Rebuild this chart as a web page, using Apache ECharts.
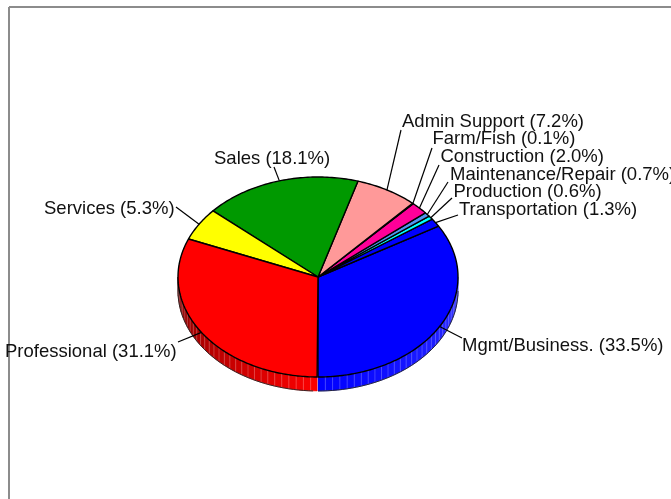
<!DOCTYPE html>
<html>
<head>
<meta charset="utf-8">
<style>
  html, body { margin: 0; padding: 0; background: #fff; }
  #chart { width: 671px; height: 499px; }
</style>
<script src="https://cdn.jsdelivr.net/npm/echarts@6/dist/echarts.min.js"></script>
</head>
<body>
<div id="chart"></div>
<script>
// slices, counter-clockwise starting from the bottom of the pie
const categories = ['Mgmt/Business.', 'Transportation', 'Production', 'Maintenance/Repair',
  'Construction', 'Farm/Fish', 'Admin Support', 'Sales', 'Services', 'Professional'];
const shares = [33.5, 1.3, 0.6, 0.7, 2.0, 0.1, 7.2, 18.1, 5.3, 31.1];
const sliceColors = ['#0000ff', '#0000ff', '#00ffff', '#4f94ef', '#ff0099',
  '#000000', '#ff9999', '#009900', '#ffff00', '#ff0000'];

// pie layout, in page pixels
const cx = 318, cy = 277, rx = 140, ry = 100, depth = 14;
const startAngle = -90;
// text left edge + vertical centre, and where each leader line stops
const labelAt = [[462, 346], [459, 210], [453.5, 192], [450, 175], [440.5, 157],
  [432.5, 139], [402, 122], [214, 159], [44, 209], [5, 352]];
const leaderEnd = [[462, 338], [458, 215], [452, 198], [448, 182], [439, 165],
  [432, 148], [401, 130], [274, 167], [176, 207], [178, 342]];

const rad = (d) => d * Math.PI / 180;
const sliceRanges = [];
let run = startAngle;
shares.forEach((s) => {
  sliceRanges.push([run, run + s * 3.6]);
  run += s * 3.6;
});

function rimPoint(api, deg, drop) {
  return api.coord([cx + rx * Math.cos(rad(deg)), cy - ry * Math.sin(rad(deg)) + drop]);
}

function shade(hex, k) {
  // k < 1 darkens, k > 1 mixes toward white
  const c = echarts.color.parse(hex);
  const f = (v) => Math.round(k <= 1 ? v * k : v + (255 - v) * (k - 1));
  return `rgb(${f(c[0])},${f(c[1])},${f(c[2])})`;
}

function renderWall(params, api) {
  const i = api.value(0);
  const [a0, a1] = sliceRanges[i];
  const children = [];
  // only the front half of the rim (-180..0 deg) is seen
  const lo = a0 > 0 ? a0 - 360 : a0;
  const hi = a0 > 0 ? a1 - 360 : a1;
  const from = Math.max(lo, -180), to = Math.min(hi, 0);
  if (from >= to) return { type: 'group', children };
  for (let d = from; d < to; d += 3) {
    const e = Math.min(d + 3, to);
    const k = d < -90 ? 0.5 + 0.5 * (d + 180) / 90 : 1 + 0.2 * (d + 90) / 90;
    const col = shade(sliceColors[i], k);
    children.push({
      type: 'polygon',
      shape: { points: [rimPoint(api, d, 0), rimPoint(api, e, 0), rimPoint(api, e, depth), rimPoint(api, d, depth)] },
      style: { fill: col, stroke: col, lineWidth: 0.5 }
    });
  }
  for (let d = from + 3; d < to; d += 3) {
    const top = rimPoint(api, d, 0), bot = rimPoint(api, d, depth);
    children.push({
      type: 'line',
      shape: { x1: top[0], y1: top[1], x2: bot[0], y2: bot[1] },
      style: { stroke: 'rgba(255,255,255,0.3)', lineWidth: 0.7 }
    });
  }
  const outer = [];
  if (from === -180) outer.push(rimPoint(api, from, 0));
  for (let d = from; d <= to + 0.01; d += 2) outer.push(rimPoint(api, Math.min(d, to), depth));
  children.push({ type: 'polyline', shape: { points: outer }, style: { fill: 'none', stroke: '#222', lineWidth: 0.9 } });
  return { type: 'group', children };
}

function renderTop(params, api) {
  const i = api.value(0);
  const [a0, a1] = sliceRanges[i];
  const pts = [api.coord([cx, cy])];
  const n = Math.max(2, Math.ceil(a1 - a0));
  for (let j = 0; j <= n; j++) pts.push(rimPoint(api, a0 + (a1 - a0) * j / n, 0));
  return { type: 'polygon', shape: { points: pts }, style: { fill: sliceColors[i], stroke: '#000', lineWidth: 1.4, lineJoin: 'round' } };
}

function renderLabel(params, api) {
  const i = api.value(0);
  const [a0, a1] = sliceRanges[i];
  const start = rimPoint(api, (a0 + a1) / 2, 0);
  const end = api.coord(leaderEnd[i]);
  const at = api.coord(labelAt[i]);
  return {
    type: 'group',
    children: [
      { type: 'line', shape: { x1: start[0], y1: start[1], x2: end[0], y2: end[1] }, style: { stroke: '#000', lineWidth: 1.2 } },
      { type: 'text', x: at[0], y: at[1], style: {
        text: `${categories[i]} (${shares[i].toFixed(1)}%)`,
        font: '18.5px "Liberation Sans", Arial, sans-serif', fill: '#111',
        textAlign: 'left', textVerticalAlign: 'middle' } }
    ]
  };
}

const rows = categories.map((c, i) => [i, shares[i]]);

const chart = echarts.init(document.getElementById('chart'), null, { renderer: 'canvas' });
chart.setOption({
  animation: false,
  grid: { left: 0, right: 0, top: 0, bottom: 0 },
  xAxis: { type: 'value', min: 0, max: 671, show: false },
  yAxis: { type: 'value', min: 0, max: 499, inverse: true, show: false },
  graphic: [
    { type: 'line', shape: { x1: 9, y1: 7, x2: 671, y2: 7 }, style: { stroke: '#8c8c8c', lineWidth: 2 } },
    { type: 'line', shape: { x1: 9, y1: 7, x2: 9, y2: 499 }, style: { stroke: '#8c8c8c', lineWidth: 2 } }
  ],
  series: [
    { type: 'custom', coordinateSystem: 'cartesian2d', data: rows, renderItem: renderWall, clip: false, silent: true, z: 2 },
    { type: 'custom', coordinateSystem: 'cartesian2d', data: rows, renderItem: renderTop, clip: false, silent: true, z: 3 },
    { type: 'custom', coordinateSystem: 'cartesian2d', data: rows, renderItem: renderLabel, clip: false, silent: true, z: 4 }
  ]
});
</script>
</body>
</html>
